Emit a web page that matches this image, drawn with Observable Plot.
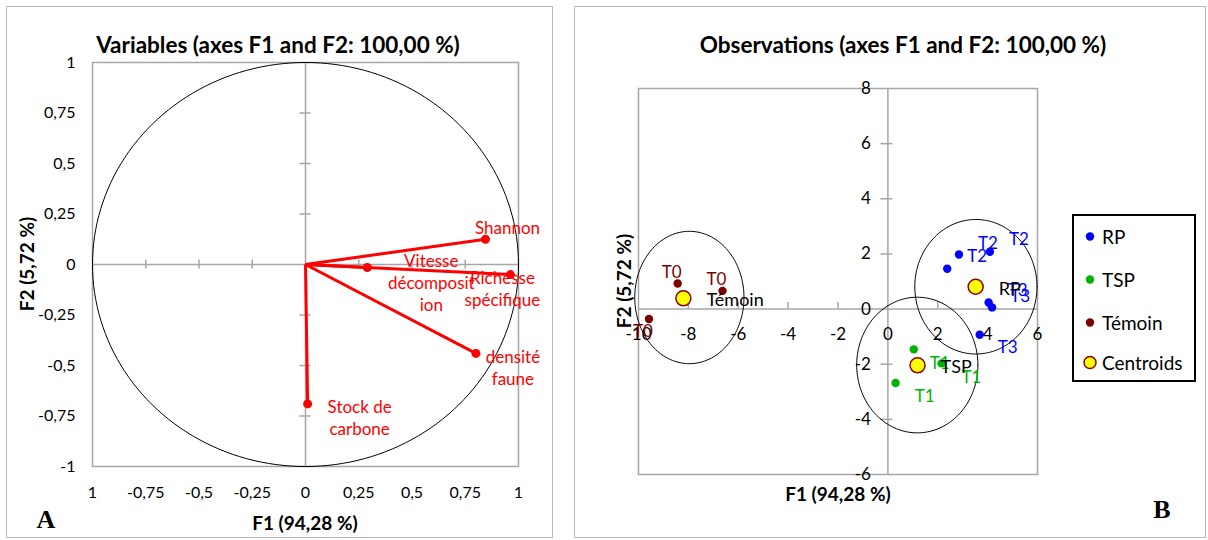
<!DOCTYPE html>
<html>
<head>
<meta charset="utf-8">
<script src="https://cdn.jsdelivr.net/npm/d3@7"></script>
<script src="https://cdn.jsdelivr.net/npm/@observablehq/plot@0.6"></script>
<style>
  body { margin: 0; background: #fff; font-family: Lato, "Noto Sans", sans-serif; }
  #root { position: relative; width: 1208px; height: 540px; overflow: hidden; }
  .panel { position: absolute; border: 1px solid #b8b8b8; box-sizing: border-box; }
  .abs { position: absolute; white-space: nowrap; }
  .title { font-weight: bold; font-size: 22.5px; transform: translate(-50%, -50%); }
  .axt { font-weight: bold; font-size: 19px; transform: translate(-50%, -50%); }
  .axtv { font-weight: bold; font-size: 19px; transform: translate(-50%, -50%) rotate(-90deg); }
  .letter { font-family: "Liberation Serif", "DejaVu Serif", serif; font-weight: bold; font-size: 26px; transform: translate(-50%, -50%); }
  .plotbox { position: absolute; top: 0; }
  #legend { position: absolute; left: 1072px; top: 214px; width: 124px; height: 168px; border: 2px solid #000; box-sizing: border-box; }
  .li { position: absolute; left: 0; font-size: 19px; display: flex; align-items: center; transform: translateY(-50%); }
</style>
</head>
<body>
<div id="root">
  <div class="panel" style="left:6px;top:6px;width:547px;height:532px;"></div>
  <div class="panel" style="left:574px;top:6px;width:632px;height:532px;"></div>
  <div id="left" class="plotbox" style="left:0px;"></div>
  <div id="right" class="plotbox" style="left:570px;"></div>
  <div class="abs title" style="left:278px;top:44px;">Variables (axes F1 and F2: 100,00 %)</div>
  <div class="abs title" style="left:903px;top:44px;">Observations (axes F1 and F2: 100,00 %)</div>
  <div class="abs axt" style="left:305px;top:522px;">F1 (94,28 %)</div>
  <div class="abs axtv" style="left:26px;top:264px;">F2 (5,72 %)</div>
  <div class="abs axt" style="left:838px;top:493px;">F1 (94,28 %)</div>
  <div class="abs axtv" style="left:623px;top:281px;">F2 (5,72 %)</div>
  <div class="abs letter" style="left:46px;top:520px;">A</div>
  <div class="abs letter" style="left:1162px;top:510px;">B</div>
  <div id="legend"></div>
</div>
<script>
// ---------- Panel A: variables ----------
const varNames = ["Shannon", "Richesse spécifique", "Vitesse décomposition", "densité faune", "Stock de carbone"];
const varLabels = ["Shannon", "Richesse\nspécifique", "Vitesse\ndécomposit\nion", "densité\nfaune", "Stock de\ncarbone"];
const varF1 = [0.845, 0.962, 0.29, 0.80, 0.01];
const varF2 = [0.125, -0.05, -0.015, -0.44, -0.69];
const aTicks = [-1, -0.75, -0.5, -0.25, 0, 0.25, 0.5, 0.75, 1];
const aXTickLabels = ["1", "-0,75", "-0,5", "-0,25", "0", "0,25", "0,5", "0,75", "1"];
const aYTickLabels = ["-1", "-0,75", "-0,5", "-0,25", "0", "0,25", "0,5", "0,75", "1"];

// ---------- Panel B: observations ----------
const obsGroup = ["Témoin","Témoin","Témoin","RP","RP","RP","RP","RP","RP","TSP","TSP","TSP"];
const obsLabel = ["T0","T0","T0","T2","T2","T2","T3","T3","T3","T1","T1","T1"];
const obsF1 = [-8.43, -6.63, -9.58, 2.38, 2.85, 4.09, 4.04, 4.18, 3.68, 1.04, 0.31, 2.15];
const obsF2 = [0.93, 0.66, -0.36, 1.46, 1.98, 2.08, 0.24, 0.06, -0.93, -1.46, -2.68, -1.97];
const centGroup = ["Témoin", "RP", "TSP"];
const centF1 = [-8.2, 3.52, 1.19];
const centF2 = [0.39, 0.81, -2.04];
const ellCx = [-7.96, 3.53, 1.18];
const ellCy = [0.42, 0.81, -2.03];
const ellRx = [2.19, 2.45, 2.43];
const ellRy = [2.4, 2.44, 2.46];
const bXTicks = [-10, -8, -6, -4, -2, 0, 2, 4, 6];
const bXTickLabels = ["-10", "-8", "-6", "-4", "-2", "0", "2", "4", "6"];
const bYTicks = [-6, -4, -2, 0, 2, 4, 6, 8];
const bYTickLabels = ["-6", "-4", "-2", "0", "2", "4", "6", "8"];

// styles (kept separate from data)
const groupColor = {"RP": "#0000ff", "TSP": "#00b400", "Témoin": "#7b0000"};
const varLabelOffset = [[22, -12], [-8, 13], [64, 14], [37, 14], [52, 13]];
const obsLabelOffset = [[-6,-11],[-6,-11],[-6,13],[30,-12],[29,-11],[29,-12],[29,-12],[28,-11],[28,13],[26,14],[29,14],[30,14]];
const gray = "#a6a6a6";
const FONT = "Lato, 'Noto Sans', sans-serif";

// ---- build A ----
const vars = varNames.map((n, i) => ({name: n, label: varLabels[i], f1: varF1[i], f2: varF2[i]}));
const angles = d3.range(0, 361, 2).map(a => a * Math.PI / 180);
const unitCircle = angles.map(a => ({x: Math.cos(a), y: Math.sin(a)}));
const aTickRows = aTicks.map((v, i) => ({v, xl: aXTickLabels[i], yl: aYTickLabels[i]}));

const plotA = Plot.plot({
  width: 560, height: 540,
  marginLeft: 92, marginRight: 42, marginTop: 62, marginBottom: 74,
  x: {domain: [-1, 1], axis: null},
  y: {domain: [-1, 1], axis: null},
  style: {fontFamily: FONT, fontSize: "16px", background: "transparent", overflow: "visible"},
  marks: [
    Plot.frame({stroke: gray, strokeWidth: 1.5}),
    Plot.ruleX([0], {stroke: gray, strokeWidth: 1.5}),
    Plot.ruleY([0], {stroke: gray, strokeWidth: 1.5}),
    Plot.ruleX(aTicks.filter(v => v !== 0 && Math.abs(v) !== 1), {x: d => d, y1: -0.022, y2: 0.022, stroke: gray, strokeWidth: 1.5}),
    Plot.ruleY(aTicks.filter(v => v !== 0 && Math.abs(v) !== 1), {y: d => d, x1: -0.026, x2: 0.026, stroke: gray, strokeWidth: 1.5}),
    Plot.text(aTickRows, {x: "v", y: -1, text: "xl", dy: 26, fill: "#000", fontSize: 16}),
    Plot.text(aTickRows, {x: -1, y: "v", text: "yl", dx: -17, textAnchor: "end", fill: "#000", fontSize: 16}),
    Plot.line(unitCircle, {x: "x", y: "y", stroke: "#000", strokeWidth: 1}),
    Plot.link(vars, {x1: 0, y1: 0, x2: "f1", y2: "f2", stroke: "#ff0000", strokeWidth: 3}),
    Plot.dot(vars, {x: "f1", y: "f2", r: 4.5, fill: "#ff0000"}),
    ...vars.map((d, i) => Plot.text([d], {x: "f1", y: "f2", text: "label", dx: varLabelOffset[i][0], dy: varLabelOffset[i][1], fill: "#ff0000", fontSize: 17, lineHeight: 1.3}))
  ]
});
document.getElementById("left").appendChild(plotA);

// ---- build B ----
const obs = obsGroup.map((g, i) => ({group: g, label: obsLabel[i], f1: obsF1[i], f2: obsF2[i]}));
const cents = centGroup.map((g, i) => ({group: g, f1: centF1[i], f2: centF2[i]}));
const ellPts = [];
centGroup.forEach((g, i) => angles.forEach(a => ellPts.push({group: g, x: ellCx[i] + ellRx[i] * Math.cos(a), y: ellCy[i] + ellRy[i] * Math.sin(a)})));
const bXRows = bXTicks.map((v, i) => ({v, l: bXTickLabels[i]}));
const bYRows = bYTicks.map((v, i) => ({v, l: bYTickLabels[i]}));

const plotB = Plot.plot({
  width: 638, height: 540,
  marginLeft: 68, marginRight: 171, marginTop: 88, marginBottom: 66,
  x: {domain: [-10, 6], axis: null},
  y: {domain: [-6, 8], axis: null},
  style: {fontFamily: FONT, fontSize: "16px", background: "transparent", overflow: "visible"},
  marks: [
    Plot.frame({stroke: gray, strokeWidth: 1.5}),
    Plot.ruleX([0], {stroke: gray, strokeWidth: 1.5}),
    Plot.ruleY([0], {stroke: gray, strokeWidth: 1.5}),
    Plot.ruleX(bXTicks.filter(v => v !== 0 && v !== -10 && v !== 6), {x: d => d, y1: 0, y2: 0.24, stroke: gray, strokeWidth: 1.5}),
    Plot.ruleY(bYTicks.filter(v => v !== 0 && v !== -6 && v !== 8), {y: d => d, x1: -0.28, x2: 0.2, stroke: gray, strokeWidth: 1.5}),
    Plot.text(bXRows, {x: "v", y: 0, text: "l", dy: 25, fill: "#000", fontSize: 17}),
    Plot.text(bYRows, {x: 0, y: "v", text: "l", dx: -17, textAnchor: "end", fill: "#000", fontSize: 17}),
    Plot.line(ellPts, {x: "x", y: "y", z: "group", stroke: "#000", strokeWidth: 1}),
    Plot.dot(obs, {x: "f1", y: "f2", r: 4.2, fill: d => groupColor[d.group]}),
    Plot.dot(cents, {x: "f1", y: "f2", r: 7.5, fill: "#ffff00", stroke: "#8b0000", strokeWidth: 1.5}),
    ...obs.map((d, i) => Plot.text([d], {x: "f1", y: "f2", text: "label", dx: obsLabelOffset[i][0], dy: obsLabelOffset[i][1], fill: groupColor[d.group], fontSize: 17})),
    Plot.text(cents, {x: "f1", y: "f2", text: "group", dx: 23, dy: 2, textAnchor: "start", fill: "#000", fontSize: 18})
  ]
});
document.getElementById("right").appendChild(plotB);

// ---- legend ----
const legendItems = ["RP", "TSP", "Témoin", "Centroids"];
const legendTops = [20, 63, 106, 146];
const legend = document.getElementById("legend");
legendItems.forEach((name, i) => {
  const row = document.createElement("div");
  row.className = "li";
  row.style.top = legendTops[i] + "px";
  const isC = name === "Centroids";
  const fill = isC ? "#ffff00" : groupColor[name];
  const r = isC ? 6 : 4.2;
  row.innerHTML = `<svg width="26" height="16" style="display:block"><circle cx="16" cy="8" r="${r}" fill="${fill}" ${isC ? 'stroke="#8b0000" stroke-width="1.5"' : ''}></circle></svg><span style="margin-left:2px">${name}</span>`;
  legend.appendChild(row);
});
</script>
</body>
</html>
